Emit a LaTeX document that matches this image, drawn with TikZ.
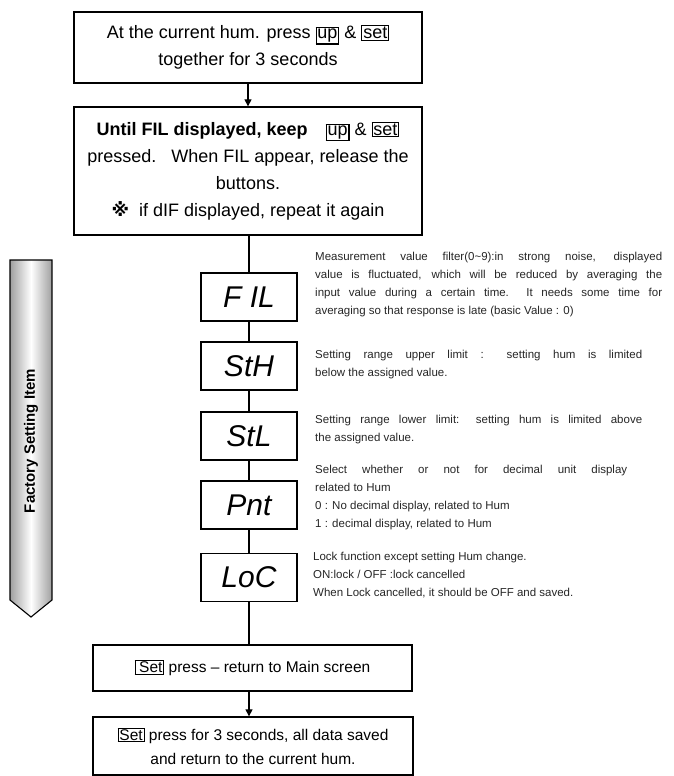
\documentclass[tikz,border=0pt]{standalone}
\usepackage{fontspec}
\setmainfont{Liberation Sans}
\newfontfamily\symfont{DejaVu Sans}
\usetikzlibrary{arrows.meta}

\newcommand{\keyb}[1]{{\setlength{\fboxsep}{0.8pt}\setlength{\fboxrule}{1.1pt}\fbox{#1}}}
\newcommand{\jl}[2]{\makebox[#1][s]{#2}}

\begin{document}
\begin{tikzpicture}[x=1pt,y=-1pt,
  flowbox/.style={draw,line width=1.3pt,align=center,inner sep=0pt,font=\fontsize{18}{27}\selectfont},
  endbox/.style={flowbox,font=\fontsize{15.5}{24}\selectfont},
  dispbox/.style={draw,line width=1.3pt,minimum width=96pt,minimum height=48pt,inner sep=0pt,font=\fontsize{30}{30}\selectfont\itshape},
  note/.style={anchor=north west,align=left,inner sep=0pt,text=black!85,font=\fontsize{11.5}{18}\selectfont},
  link/.style={line width=1.1pt},
  flow/.style={line width=1.1pt,-{Triangle[length=7pt,width=7pt]}}]
\useasboundingbox (0,0) rectangle (674,776);
% main flow
\node[flowbox,minimum width=348pt,minimum height=71pt] (start) at (248,47.5)
  {At the current hum. press \keyb{up} \& \keyb{set}\\together for 3 seconds};
\node[flowbox,minimum width=348pt,minimum height=128pt] (hold) at (248,171)
  {\textbf{Until FIL displayed, keep}\quad\keyb{up} \& \keyb{set}\\
   pressed.\ \ \ When FIL appear, release the\\ buttons.\\
   {\symfont\bfseries ※}\ \ if dIF displayed, repeat it again};
% setting items
\node[dispbox] (fil) at (249,297) {F IL};
\node[dispbox] (sth) at (249,366) {StH};
\node[dispbox] (stl) at (249,436) {StL};
\node[dispbox] (pnt) at (249,505) {Pnt};
\node[dispbox] (loc) at (249,577.5) {LoC};
\node[endbox,minimum width=319pt,minimum height=46pt] (back) at (252.5,668)
  {\keyb{\,Set} press -- return to Main screen};
\node[endbox,minimum width=320pt,minimum height=58pt] (done) at (253,746)
  {\keyb{Set} press for 3 seconds, all data saved\\and return to the current hum.};
\draw[flow] (start) -- (hold);
\draw[link] (hold.south -| fil.north) -- (fil);
\draw[link] (fil) -- (sth);
\draw[link] (sth) -- (stl);
\draw[link] (stl) -- (pnt);
\draw[link] (pnt) -- (loc);
\draw[link] (loc) -- (loc.south |- back.north);
\draw[flow] (loc.south |- back.south) -- (loc.south |- done.north);
% notes
\node[note] (filnote) at (315,252)
  {\jl{347pt}{Measurement value filter(0\textasciitilde9):in strong noise, displayed}\\
   \jl{347pt}{value is fluctuated, which will be reduced by averaging the}\\
   \jl{347pt}{input value during a certain time.\ \ It needs some time for}\\
   averaging so that response is late (basic Value : 0)};
\node[note] (sthnote) at (315,350)
  {\jl{327pt}{Setting range upper limit : setting hum is limited}\\below the assigned value.};
\node[note] (stlnote) at (315,415)
  {\jl{327pt}{Setting range lower limit: setting hum is limited above}\\the assigned value.};
\node[note] (pntnote) at (315,465)
  {\jl{312pt}{Select whether or not for decimal unit display}\\related to Hum\\
   0 : No decimal display, related to Hum\\1 : decimal display, related to Hum};
\node[note] (locnote) at (313,552)
  {Lock function except setting Hum change.\\ON:lock / OFF :lock cancelled\\
   When Lock cancelled, it should be OFF and saved.};
% side arrow
\shade[left color=gray!75,right color=gray!75,middle color=white]
  (10,260) -- (52,260) -- (52,600) -- (31,617) -- (10,600) -- cycle;
\draw[line width=1.1pt] (10,260) -- (52,260) -- (52,600) -- (31,617) -- (10,600) -- cycle;
\node[rotate=90,font=\fontsize{15}{15}\selectfont\bfseries] (side) at (31,441) {Factory Setting Item};
\end{tikzpicture}
\end{document}
